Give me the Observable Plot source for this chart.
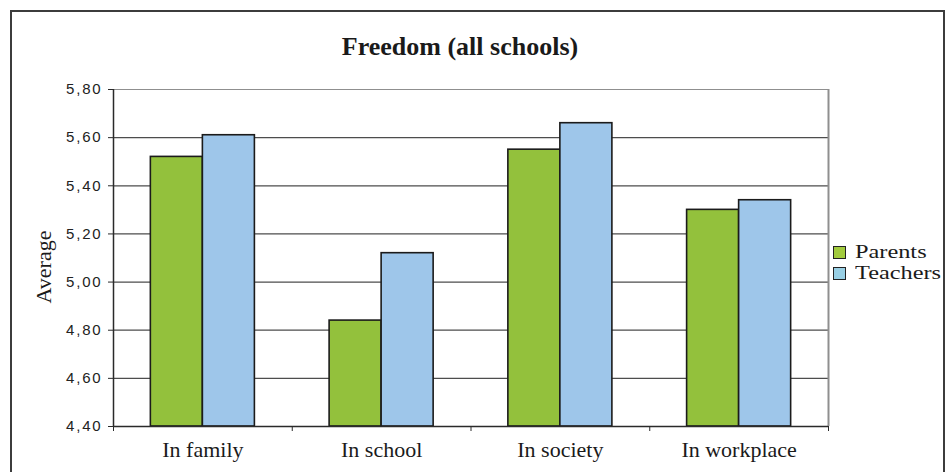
<!DOCTYPE html>
<html>
<head>
<meta charset="utf-8">
<script src="https://cdn.jsdelivr.net/npm/d3@7"></script>
<script src="https://cdn.jsdelivr.net/npm/@observablehq/plot@0.6"></script>
<style>
  html, body { margin: 0; padding: 0; background: #fff; }
  #wrap { position: relative; width: 946px; height: 472px; overflow: hidden; background: #fff; }
  #frame { position: absolute; left: 10px; top: 10px; width: 935px; height: 500px; border: 2px solid #3c3c3c; box-sizing: border-box; }
  #title { position: absolute; left: 460px; top: 34px; transform: translateX(-50%); font: bold 26px/26px "Liberation Serif", serif; color: #1a1a1a; white-space: nowrap; }
  #chart { position: absolute; left: 0; top: 75px; }
  #ylabel { position: absolute; left: 44px; top: 267px; transform: translate(-50%, -50%) rotate(-90deg); font: 22px/22px "Liberation Serif", serif; color: #1a1a1a; white-space: nowrap; }
  #legend { position: absolute; left: 833px; top: 241px; font: 19px/21px "Liberation Serif", serif; color: #1a1a1a; }
  .item { display: flex; align-items: center; height: 21px; white-space: nowrap; }
  .sw { width: 11px; height: 11px; border: 1px solid #222; margin-right: 9px; flex: none; position: relative; top: 1px; }
  .lbl { display: inline-block; transform: scaleX(1.28); transform-origin: left center; }
  .yax text { letter-spacing: 1.8px; }
</style>
</head>
<body>
<div id="wrap">
  <div id="frame"></div>
  <div id="title"></div>
  <div id="chart"></div>
  <div id="ylabel"></div>
  <div id="legend"></div>
</div>
<script>
// ---- data ----
const titleText = "Freedom (all schools)";
const yLabel = "Average";
const categories = ["In family", "In school", "In society", "In workplace"];
const series = ["Parents", "Teachers"];
const parents = [5.52, 4.84, 5.55, 5.30];
const teachers = [5.61, 5.12, 5.66, 5.34];
const yTicks = [4.40, 4.60, 4.80, 5.00, 5.20, 5.40, 5.60, 5.80];
const barColors = ["#93c13c", "#9ec6ea"];
const legendColors = ["#a2cb3e", "#98cfe4"];

// ---- layout constants (fractions of a category slot) ----
const groupPad = 0.209;
const barW = (1 - 2 * groupPad) / series.length;

const values = [parents, teachers];
const rows = categories.flatMap((c, i) =>
  series.map((s, j) => ({ i, j, category: c, series: s, value: values[j][i] }))
);

const yMin = yTicks[0], yMax = yTicks[yTicks.length - 1];
const fmt = d => d.toFixed(2).replace(".", ",");

const chart = Plot.plot({
  width: 946,
  height: 397,
  marginLeft: 113,
  marginRight: 118,
  marginTop: 14,
  marginBottom: 46,
  style: { background: "transparent", overflow: "visible" },
  x: { domain: [0, categories.length], axis: null },
  y: { domain: [yMin, yMax], axis: null },
  color: { domain: series, range: barColors },
  marks: [
    Plot.ruleY(yTicks.slice(1, -1), { stroke: "#4d4d4d", strokeWidth: 1.2 }),
    Plot.ruleY([yMax], { stroke: "#8f8f8f", strokeWidth: 1.2 }),
    Plot.ruleX([categories.length], { stroke: "#8f8f8f", strokeWidth: 2 }),
    Plot.rectY(rows, {
      x1: d => d.i + groupPad + d.j * barW,
      x2: d => d.i + groupPad + (d.j + 1) * barW,
      y1: () => yMin,
      y2: "value",
      fill: "series",
      stroke: "#1b1b1b",
      strokeWidth: 1.6
    }),
    Plot.ruleY([yMin], { stroke: "#2a2a2a", strokeWidth: 1.5 }),
    Plot.ruleX([0], { stroke: "#2a2a2a", strokeWidth: 1.5 }),
    Plot.axisY({
      ticks: yTicks,
      tickSize: 5,
      tickPadding: 6,
      tickFormat: fmt,
      label: null,
      stroke: "#2a2a2a",
      fontSize: 15,
      fontFamily: "Liberation Sans, Arial, sans-serif",
      fill: "#222",
      className: "yax"
    }),
    Plot.axisX({
      ticks: d3.range(categories.length + 1),
      tickSize: 5,
      tickFormat: () => "",
      label: null,
      stroke: "#2a2a2a"
    }),
    Plot.axisX({
      ticks: categories.map((_, i) => i + 0.5),
      tickSize: 0,
      tickPadding: 15,
      tickFormat: v => categories[Math.floor(v)],
      label: null,
      fontSize: 22,
      fontFamily: "Liberation Serif, Times New Roman, serif",
      fill: "#1a1a1a"
    })
  ]
});
document.getElementById("chart").appendChild(chart);

document.getElementById("title").textContent = titleText;
document.getElementById("ylabel").textContent = yLabel;
const legend = document.getElementById("legend");
series.forEach((s, j) => {
  const item = document.createElement("div");
  item.className = "item";
  const sw = document.createElement("span");
  sw.className = "sw";
  sw.style.background = legendColors[j];
  const label = document.createElement("span");
  label.className = "lbl";
  label.textContent = s;
  item.appendChild(sw);
  item.appendChild(label);
  legend.appendChild(item);
});
</script>
</body>
</html>
